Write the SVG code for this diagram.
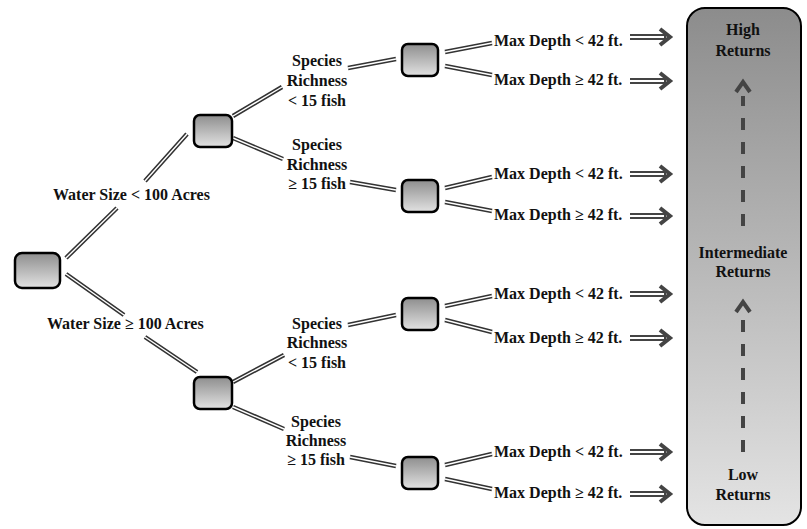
<svg xmlns="http://www.w3.org/2000/svg" width="807" height="529" viewBox="0 0 807 529">
<defs>
<linearGradient id="boxg" x1="0" y1="0" x2="0" y2="1">
<stop offset="0" stop-color="#8e8e8e"/>
<stop offset="1" stop-color="#e2e2e2"/>
</linearGradient>
<linearGradient id="panelg" x1="0" y1="0" x2="0" y2="1">
<stop offset="0" stop-color="#8c8c8c"/>
<stop offset="1" stop-color="#e4e4e4"/>
</linearGradient>
</defs>
<style>
.box{fill:url(#boxg);stroke:#000;stroke-width:2.5}
.t{font-family:"Liberation Serif","Times New Roman",serif;font-weight:bold;font-size:16px;fill:#111}
.c{text-anchor:middle}
.dblo{fill:none;stroke:#333;stroke-width:4.5}
.dbli{fill:none;stroke:#fff;stroke-width:1.4}
.shafto{fill:none;stroke:#444;stroke-width:6}
.shafti{fill:none;stroke:#fff;stroke-width:1.8}
.head{fill:none;stroke:#444;stroke-width:4}
.dash{fill:none;stroke:#444;stroke-width:4;stroke-dasharray:12 12}
</style>
<rect width="807" height="529" fill="#fff"/>

<g id="connectors">
<path class="dblo" d="M66,258 L117,208 M145,181 L187,134 M66,274 L124,315 M145,337 L197,372 M233,116 L282,87 M348,68 L396,59 M233,138 L283,159 M350,182 L396,190 M233,382 L284,355 M348,325 L396,315 M233,407 L284,429 M350,457 L396,466 M445,52 L492,43 M445,66 L492,75 M445,188 L492,177 M445,202 L492,211 M445,306 L492,296 M445,320 L492,332 M445,465 L492,454 M445,479 L492,489"/>
<path class="dbli" d="M66,258 L117,208 M145,181 L187,134 M66,274 L124,315 M145,337 L197,372 M233,116 L282,87 M348,68 L396,59 M233,138 L283,159 M350,182 L396,190 M233,382 L284,355 M348,325 L396,315 M233,407 L284,429 M350,457 L396,466 M445,52 L492,43 M445,66 L492,75 M445,188 L492,177 M445,202 L492,211 M445,306 L492,296 M445,320 L492,332 M445,465 L492,454 M445,479 L492,489"/>
<path class="shafto" d="M630,37 H666 M630,81 H666 M630,174 H666 M630,216 H666 M630,294 H666 M630,338 H666 M630,452 H666 M630,494 H666"/>
<path class="shafti" d="M630,37 H664 M630,81 H664 M630,174 H664 M630,216 H664 M630,294 H664 M630,338 H664 M630,452 H664 M630,494 H664"/>
<path class="head" d="M660,29 L670,37 L660,45 M660,73 L670,81 L660,89 M660,166 L670,174 L660,182 M660,208 L670,216 L660,224 M660,286 L670,294 L660,302 M660,330 L670,338 L660,346 M660,444 L670,452 L660,460 M660,486 L670,494 L660,502"/>
</g>

<g id="root"><rect class="box" x="15" y="253" width="45" height="35" rx="7"/></g>
<g id="n-small"><rect class="box" x="194" y="115" width="38" height="32" rx="6"/></g>
<g id="n-large"><rect class="box" x="194" y="377" width="38" height="32" rx="6"/></g>
<g id="n1"><rect class="box" x="402" y="44" width="36" height="32" rx="6"/></g>
<g id="n2"><rect class="box" x="402" y="180" width="36" height="32" rx="6"/></g>
<g id="n3"><rect class="box" x="402" y="298" width="36" height="32" rx="6"/></g>
<g id="n4"><rect class="box" x="402" y="457" width="36" height="32" rx="6"/></g>

<g id="labels">
<text class="t" x="53" y="200">Water Size &lt; 100 Acres</text>
<text class="t" x="47" y="329">Water Size ≥ 100 Acres</text>
<text class="t c" x="317" y="66">Species</text>
<text class="t c" x="317" y="86">Richness</text>
<text class="t c" x="317" y="106">&lt; 15 fish</text>
<text class="t c" x="317" y="150">Species</text>
<text class="t c" x="317" y="170">Richness</text>
<text class="t c" x="317" y="189">≥ 15 fish</text>
<text class="t c" x="317" y="329">Species</text>
<text class="t c" x="317" y="348">Richness</text>
<text class="t c" x="317" y="368">&lt; 15 fish</text>
<text class="t c" x="316" y="427">Species</text>
<text class="t c" x="316" y="446">Richness</text>
<text class="t c" x="316" y="465">≥ 15 fish</text>
<text class="t" x="494" y="46">Max Depth &lt; 42 ft.</text>
<text class="t" x="494" y="85">Max Depth ≥ 42 ft.</text>
<text class="t" x="494" y="179">Max Depth &lt; 42 ft.</text>
<text class="t" x="494" y="220">Max Depth ≥ 42 ft.</text>
<text class="t" x="494" y="299">Max Depth &lt; 42 ft.</text>
<text class="t" x="494" y="343">Max Depth ≥ 42 ft.</text>
<text class="t" x="494" y="457">Max Depth &lt; 42 ft.</text>
<text class="t" x="494" y="498">Max Depth ≥ 42 ft.</text>
</g>

<g id="returns">
<rect x="687" y="8" width="114" height="517" rx="18" fill="url(#panelg)" stroke="#000" stroke-width="2"/>
<text class="t c" x="743" y="35">High</text>
<text class="t c" x="743" y="56">Returns</text>
<text class="t c" x="743" y="258">Intermediate</text>
<text class="t c" x="743" y="277">Returns</text>
<text class="t c" x="743" y="480">Low</text>
<text class="t c" x="743" y="500">Returns</text>
<path class="dash" d="M743,226 V96"/>
<path class="head" d="M736,92 L743,82 L750,92"/>
<path class="dash" d="M743,452 V316"/>
<path class="head" d="M736,312 L743,302 L750,312"/>
</g>
</svg>
